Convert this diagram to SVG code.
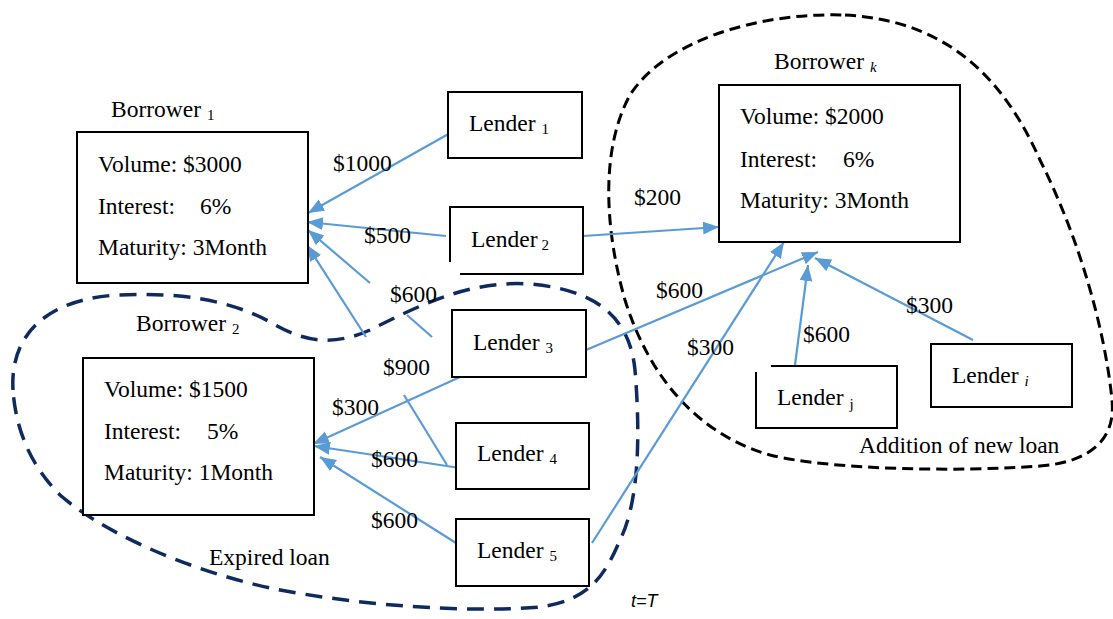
<svg xmlns="http://www.w3.org/2000/svg" width="1113" height="619" viewBox="0 0 1113 619">
<style>
  text { font-family: "Liberation Serif", "Times New Roman", serif; font-size: 23.5px; fill: #000; }
  .sub { font-size: 15px; }
  .it { font-style: italic; }
  .box { fill: #fff; stroke: #000; stroke-width: 2; }
  .open { fill: none; stroke: #000; stroke-width: 2; }
  .ln { fill: none; stroke: #5B9BD5; stroke-width: 2.2; }
  .arr { marker-end: url(#ah); }
  .newloan { fill: none; stroke: #000; stroke-width: 3; stroke-dasharray: 11 6; }
  .expired { fill: none; stroke: #0E2A5F; stroke-width: 3.5; stroke-dasharray: 17 10; }
  .tT { font-family: "Liberation Sans", Arial, sans-serif; font-style: italic; font-size: 18px; }
</style>
<defs>
  <marker id="ah" markerUnits="userSpaceOnUse" markerWidth="17" markerHeight="14" refX="16" refY="6.5" orient="auto">
    <path d="M0,0 L16,6.5 L0,13 Z" fill="#5B9BD5"/>
  </marker>
</defs>
<rect width="1113" height="619" fill="#fff"/>

<g id="regions">
  <path id="new-loan-region" class="newloan" d="M845,15 C940,20 1000,70 1040,160 C1080,240 1105,330 1112,400 C1116,440 1090,462 1040,466 C960,472 830,470 770,455 C700,435 650,380 625,300 C605,230 600,150 630,95 C665,40 760,12 845,15 Z"/>
  <path id="expired-loan-region" class="expired" d="M13,390 C10,340 40,300 117,295 C180,292 230,300 270,322 C300,340 330,348 370,330 C420,305 470,280 530,284 C600,290 630,320 635,370 C640,430 640,500 620,540 C605,575 590,600 540,607 C470,613 360,606 270,588 C180,568 100,530 60,495 C25,460 15,420 13,390 Z"/>
</g>

<g id="connectors">
  <line class="ln arr" x1="452" y1="132" x2="308" y2="213" stroke-width="1.6"/>
  <line class="ln arr" x1="446" y1="236" x2="307" y2="222"/>
  <line class="ln" x1="432" y1="337" x2="407" y2="315"/>
  <line class="ln arr" x1="370" y1="283" x2="308" y2="230"/>
  <line class="ln" x1="447" y1="465" x2="404" y2="395"/>
  <line class="ln arr" x1="366" y1="337" x2="307" y2="245"/>
  <line class="ln arr" x1="460" y1="377" x2="313" y2="444"/>
  <line class="ln arr" x1="460" y1="468" x2="314" y2="446"/>
  <line class="ln arr" x1="456" y1="543" x2="320" y2="457"/>
  <line class="ln arr" x1="583" y1="236" x2="719" y2="227" stroke-width="2.6"/>
  <line class="ln arr" x1="586" y1="350" x2="818" y2="252"/>
  <line class="ln arr" x1="592" y1="543" x2="784" y2="242"/>
  <line class="ln arr" x1="795" y1="365" x2="808" y2="265"/>
  <line class="ln arr" x1="973" y1="340" x2="815" y2="258"/>
</g>

<g id="connector-labels">
  <text x="333" y="171">$1000</text>
  <text x="364" y="243">$500</text>
  <text x="390" y="302">$600</text>
  <text x="383" y="375">$900</text>
  <text x="332" y="415">$300</text>
  <text x="371" y="467">$600</text>
  <text x="371" y="528">$600</text>
  <text x="634" y="205">$200</text>
  <text x="656" y="298">$600</text>
  <text x="687" y="355">$300</text>
  <text x="803" y="342">$600</text>
  <text x="906" y="313">$300</text>
</g>

<g id="borrower1">
  <text x="111" y="117">Borrower <tspan class="sub" dy="3">1</tspan></text>
  <rect class="box" x="77" y="132" width="231" height="151"/>
  <text x="98" y="172">Volume: $3000</text>
  <text x="98" y="214">Interest:</text><text x="200" y="214">6%</text>
  <text x="98" y="255">Maturity: 3Month</text>
</g>

<g id="borrower2">
  <text x="136" y="331">Borrower <tspan class="sub" dy="3">2</tspan></text>
  <rect class="box" x="83" y="358" width="231" height="157"/>
  <text x="104" y="397">Volume: $1500</text>
  <text x="104" y="439">Interest:</text><text x="207" y="439">5%</text>
  <text x="104" y="480">Maturity: 1Month</text>
</g>

<g id="borrowerk">
  <text x="774" y="69">Borrower <tspan class="sub it" dy="3">k</tspan></text>
  <rect class="box" x="719" y="85" width="241" height="157"/>
  <text x="740" y="124">Volume: $2000</text>
  <text x="740" y="167">Interest:</text><text x="843" y="167">6%</text>
  <text x="740" y="208">Maturity: 3Month</text>
</g>

<g id="lender1">
  <rect class="box" x="448" y="92" width="134" height="66"/>
  <text x="469" y="131">Lender <tspan class="sub" dy="3">1</tspan></text>
</g>
<g id="lender2">
  <rect x="450" y="207" width="133" height="67" fill="#fff"/>
  <path class="open" d="M460,274 H583 V207 H450 V262"/>
  <text x="471" y="247">Lender <tspan class="sub" dy="3" dx="-2">2</tspan></text>
</g>
<g id="lender3">
  <rect class="box" x="452" y="310" width="134" height="67"/>
  <text x="473" y="350">Lender <tspan class="sub" dy="3">3</tspan></text>
</g>
<g id="lender4">
  <rect class="box" x="456" y="423" width="133" height="66"/>
  <text x="477" y="461">Lender <tspan class="sub" dy="3">4</tspan></text>
</g>
<g id="lender5">
  <rect class="box" x="456" y="519" width="133" height="67"/>
  <text x="477" y="558">Lender <tspan class="sub" dy="3">5</tspan></text>
</g>
<g id="lenderj">
  <rect x="756" y="366" width="141" height="62" fill="#fff"/>
  <path class="open" d="M771,366 H897 V428 H756 V372"/>
  <text x="777" y="405">Lender <tspan class="sub" dy="4">j</tspan></text>
</g>
<g id="lenderi">
  <rect class="box" x="931" y="344" width="141" height="63"/>
  <text x="952" y="383">Lender <tspan class="sub it" dy="3">i</tspan></text>
</g>

<g id="annotations">
  <text x="209" y="565">Expired loan</text>
  <text x="859" y="453">Addition of new loan</text>
  <text class="tT" x="631" y="607">t=T</text>
</g>
</svg>
